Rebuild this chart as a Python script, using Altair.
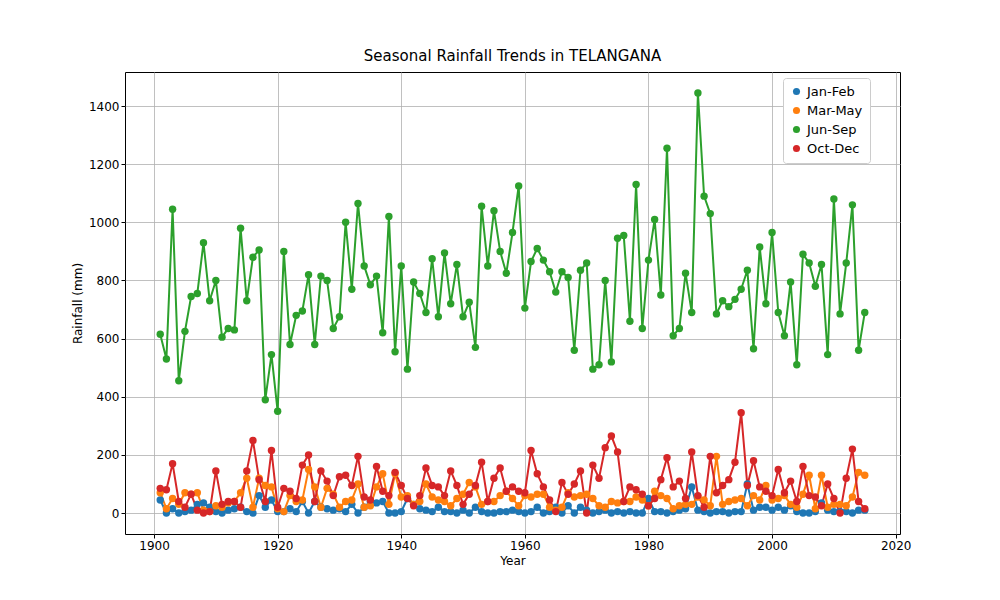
import altair as alt
import pandas as pd

years = list(range(1901, 2016))
jan_feb = [45,0,15,0,5,10,30,35,20,5, 0,10,15,20,5,0,60,20,45,5, 5,15,5,40,0,40,20,15,10,15,
           5,30,0,20,40,35,40,0,0,5, 50,30,15,10,5,20,5,5,0,10, 0,20,5,0,0,5,5,10,5,0,
           5,20,0,5,20,0,25,0,20,10, 0,5,10,0,5,0,5,0,0,50, 5,5,0,5,10,15,90,10,5,0,
           5,5,0,5,5,100,10,20,20,10, 20,10,25,5,0,0,5,35,10,5, 5,5,0,10,10]
mar_may = [70,15,50,30,70,65,70,10,5,25, 20,35,40,70,120,20,120,95,90,15, 5,60,40,45,150,90,20,85,65,20,
           40,45,100,20,25,90,135,30,135,55, 60,30,40,100,55,45,40,25,50,65, 105,90,30,40,40,60,75,50,25,60,
           55,65,65,20,10,20,70,55,60,65, 50,25,20,40,35,40,40,55,45,25, 75,60,50,15,25,30,30,55,45,25,
           195,30,40,45,50,25,60,45,95,45, 50,60,30,20,65,130,15,130,20,30, 30,25,55,140,130]
jun_sep = [615,530,1045,455,625,745,755,930,730,800, 605,635,630,980,730,880,905,390,545,350,
           900,580,680,695,820,580,815,800,635,675, 1000,770,1065,850,785,815,620,1020,555,850,
           495,795,755,690,875,675,895,720,855,675, 725,570,1055,850,1040,900,825,965,1125,705,
           865,910,870,830,760,830,810,560,835,860, 495,510,800,520,945,955,660,1130,635,870,
           1010,750,1255,610,635,825,690,1445,1090,1030, 685,730,710,735,770,835,565,915,720,965,
           690,610,795,510,890,860,780,855,545,1080, 685,860,1060,560,690]
oct_dec = [85,80,170,40,20,65,10,0,5,145, 30,40,40,20,145,250,115,40,215,20, 85,75,50,165,200,40,145,110,60,125,
           130,95,195,55,45,160,75,60,140,95, 50,25,60,155,95,90,60,145,95,30, 65,95,175,40,120,155,75,90,75,70,
           215,135,90,45,5,105,65,100,145,0, 165,120,225,265,210,40,90,80,65,25, 50,115,190,90,110,50,210,60,20,195,
           70,95,115,175,345,95,180,90,75,60, 150,70,110,40,160,60,55,25,100,50, 0,120,220,40,15]

series = ["Jan-Feb", "Mar-May", "Jun-Sep", "Oct-Dec"]
colors = ["#1f77b4", "#ff7f0e", "#2ca02c", "#d62728"]
rows = []
for name, vals in zip(series, [jan_feb, mar_may, jun_sep, oct_dec]):
    for y, v in zip(years, vals):
        rows.append({"Year": y, "Rainfall": v, "Season": name})
df = pd.DataFrame(rows)

x = alt.X("Year:Q", title="Year", scale=alt.Scale(domain=[1895.3, 2020.7], nice=False, zero=False),
          axis=alt.Axis(values=list(range(1900, 2021, 20)), format="d"))
y = alt.Y("Rainfall:Q", title="Rainfall (mm)", scale=alt.Scale(domain=[-72, 1517], nice=False),
          axis=alt.Axis(values=list(range(0, 1401, 200)), format="d"))
color = alt.Color("Season:N", scale=alt.Scale(domain=series, range=colors),
                  legend=alt.Legend(title=None, orient="none", legendX=658, legendY=6,
                                    symbolType="circle", symbolSize=50, labelFontSize=13,
                                    fillColor="white", strokeColor="#cccccc", padding=7,
                                    cornerRadius=3, rowPadding=5, symbolStrokeWidth=0))
order = alt.Order("Year:Q")

lines = alt.Chart(df).mark_line(strokeWidth=2).encode(x=x, y=y, color=color, order=order,
                                                       detail="Season:N")
points = alt.Chart(df).mark_circle(size=55, opacity=1).encode(x=x, y=y, color=color)

chart = (lines + points).properties(
    width=775, height=462,
    title=alt.Title("Seasonal Rainfall Trends in TELANGANA", fontSize=15, fontWeight="normal",
                    font="DejaVu Sans", offset=8),
    padding={"left": 117, "top": 64, "right": 60, "bottom": 40},
    autosize=alt.AutoSizeParams(type="none"),
).configure_view(stroke="black", strokeWidth=1).configure_axis(
    grid=True, gridColor="#b0b0b0", gridWidth=0.8, domain=False, tickColor="black",
    labelFont="DejaVu Sans", titleFont="DejaVu Sans", labelFontSize=12, titleFontSize=12,
    titleFontWeight="normal", labelColor="black", titleColor="black", tickSize=4
).configure_legend(labelFont="DejaVu Sans")

chart.save("out.html", embed_options={"renderer": "svg", "actions": False})
